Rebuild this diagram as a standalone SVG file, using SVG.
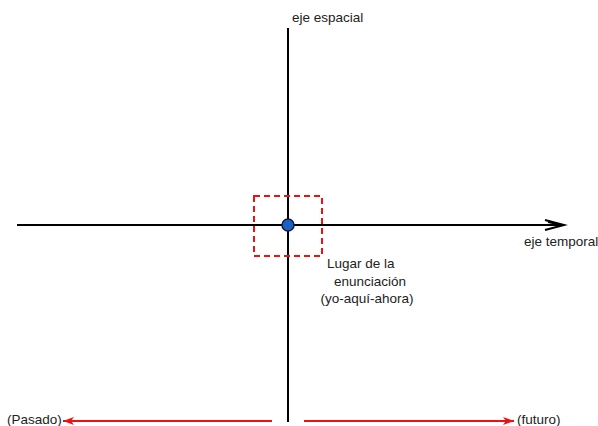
<svg xmlns="http://www.w3.org/2000/svg" width="598" height="426" viewBox="0 0 598 426">
<defs>
<style>
.t{font-family:"Liberation Sans",Arial,sans-serif;font-size:13.5px;fill:#222}
.ax{stroke:#000;stroke-width:2;fill:none}
.red{stroke:#f01010;stroke-width:2;fill:none}
</style>
<marker id="ra" markerWidth="12" markerHeight="10" refX="11" refY="5" orient="auto" markerUnits="userSpaceOnUse">
<path d="M0,1 L11,5 L0,9 L3,5 Z" fill="#f01010"/>
</marker>
</defs>
<rect width="598" height="426" fill="#fff"/>
<g id="connectors">
<line class="ax" x1="288" y1="28" x2="288" y2="422"/>
<line class="ax" x1="17" y1="225" x2="562" y2="225"/>
<path d="M545,220 L564,225 L545,230 M548,222 L562,225" stroke="#000" stroke-width="2" fill="none"/>
<line class="red" x1="272" y1="421" x2="63" y2="421" marker-end="url(#ra)"/>
<line class="red" x1="304" y1="421" x2="514" y2="421" marker-end="url(#ra)"/>
</g>
<g id="enunciacion">
<rect x="254" y="196" width="68" height="60" fill="none" stroke="#f01010" stroke-width="2" stroke-dasharray="6,4"/>
<circle cx="288" cy="225" r="6" fill="#1a63c4" stroke="#1a1a3a" stroke-width="1.5"/>
<text class="t" x="327" y="268">Lugar de la</text>
<text class="t" x="370" y="286" text-anchor="middle">enunciación</text>
<text class="t" x="367" y="303" text-anchor="middle">(yo-aquí-ahora)</text>
</g>
<g id="labels">
<text class="t" x="292" y="22">eje espacial</text>
<text class="t" x="524" y="246">eje temporal</text>
<text class="t" x="7" y="424">(Pasado)</text>
<text class="t" x="517" y="424">(futuro)</text>
</g>
</svg>
